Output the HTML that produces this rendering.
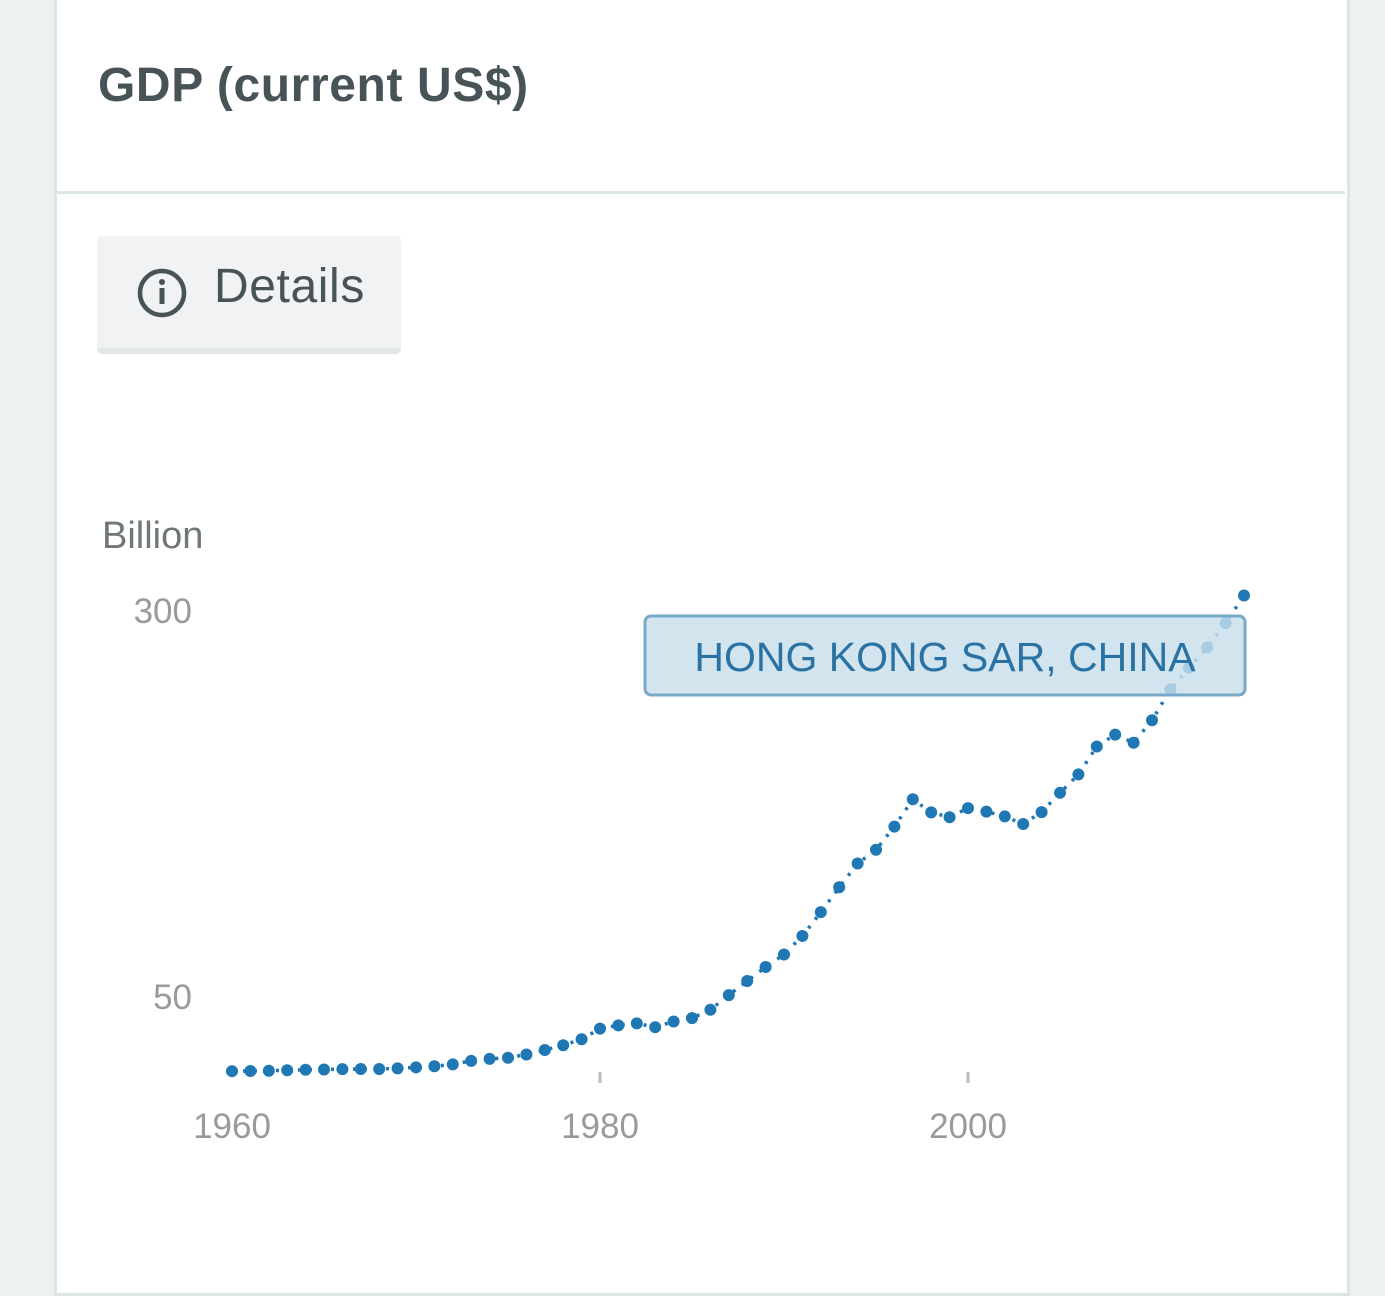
<!DOCTYPE html>
<html><head><meta charset="utf-8"><style>
html,body{margin:0;padding:0;width:1385px;height:1296px;background:#eef1f2;overflow:hidden;font-family:"Liberation Sans",sans-serif}
#card{position:absolute;left:54px;top:-5px;width:1290px;height:1295px;background:#fff;border:3px solid #dde6e6}
#title{position:absolute;left:98px;top:58px;font-size:48px;font-weight:bold;color:#485357;letter-spacing:0.6px}
#divider{position:absolute;left:57px;top:191px;width:1288px;height:3px;background:#dde6e6}
#details{position:absolute;left:97px;top:236px;width:304px;height:112px;background:#f0f2f3;border-radius:5px;border-bottom:6px solid #e4e7e8}
#details span{position:absolute;left:117px;top:23px;font-size:48px;color:#485357;letter-spacing:0.6px}
svg{position:absolute;left:0;top:0}
</style></head><body>
<div id="card"></div>
<div id="title">GDP (current US$)</div>
<div id="divider"></div>
<div id="details">
<svg width="60" height="60" style="left:38px;top:30px"><circle cx="27" cy="27" r="22" fill="none" stroke="#485357" stroke-width="4.5"/><circle cx="27" cy="16" r="3" fill="#485357"/><rect x="24.5" y="22" width="5" height="16" fill="#485357"/></svg>
<span>Details</span></div>
<svg id="chart" width="1385" height="1296"></svg>
<script>
const years=[];for(let y=1960;y<=2015;y++)years.push(y);
const gdp=[1.3,1.4,1.6,1.9,2.2,2.4,2.6,2.7,2.7,3.1,3.8,4.5,5.7,8.0,9.3,10.0,12.1,15.0,18.1,22.0,28.9,31.0,32.3,29.8,33.5,35.7,41.1,50.6,59.7,68.8,76.9,88.9,104.3,120.4,135.8,144.7,159.7,177.4,168.9,165.8,171.7,169.4,166.3,161.4,169.1,181.6,193.5,211.6,219.3,214.0,228.6,248.5,262.6,275.7,291.5,309.4];
const yTicks=[50,300];
const xTicks=[1960,1980,2000];
const NS="http://www.w3.org/2000/svg";
const svg=document.getElementById('chart');
function xs(y){return 232+(y-1960)*(968-232)/40;}
function ys(v){return 996-(v-50)*(996-610)/250;}
function mk(t,a){const e=document.createElementNS(NS,t);for(const k in a)e.setAttribute(k,a[k]);svg.appendChild(e);return e;}
let t=mk('text',{x:102,y:548,'font-size':38,fill:'#6f7779'});t.textContent='Billion';


yTicks.forEach(v=>{const e=mk('text',{x:192,y:ys(v)+13,'font-size':35,fill:'#9a9a9a','text-anchor':'end'});e.textContent=v;

});
xTicks.forEach(v=>{if(v!==1960){const l=mk('line',{x1:xs(v),x2:xs(v),y1:1072,y2:1083,stroke:'#bbb','stroke-width':3});

}
const e=mk('text',{x:xs(v),y:1138,'font-size':35,fill:'#9a9a9a','text-anchor':'middle'});e.textContent=v;

});
const pts=years.map((y,i)=>xs(y)+','+ys(gdp[i])).join(' ');
const pl=mk('polyline',{points:pts,fill:'none',stroke:'#1f77b4','stroke-width':3.5,'stroke-dasharray':'3 8'});


years.forEach((y,i)=>{const c=mk('circle',{cx:xs(y),cy:ys(gdp[i]),r:6,fill:'#1f77b4'});

});
const r=mk('rect',{x:645,y:616,width:600,height:79,rx:6,fill:'rgba(200,223,236,0.82)',stroke:'#78a9c9','stroke-width':3});


const lt=mk('text',{x:945,y:671,'font-size':41,fill:'#2a72a3','text-anchor':'middle'});lt.textContent='HONG KONG SAR, CHINA';


</script>
</body></html>
